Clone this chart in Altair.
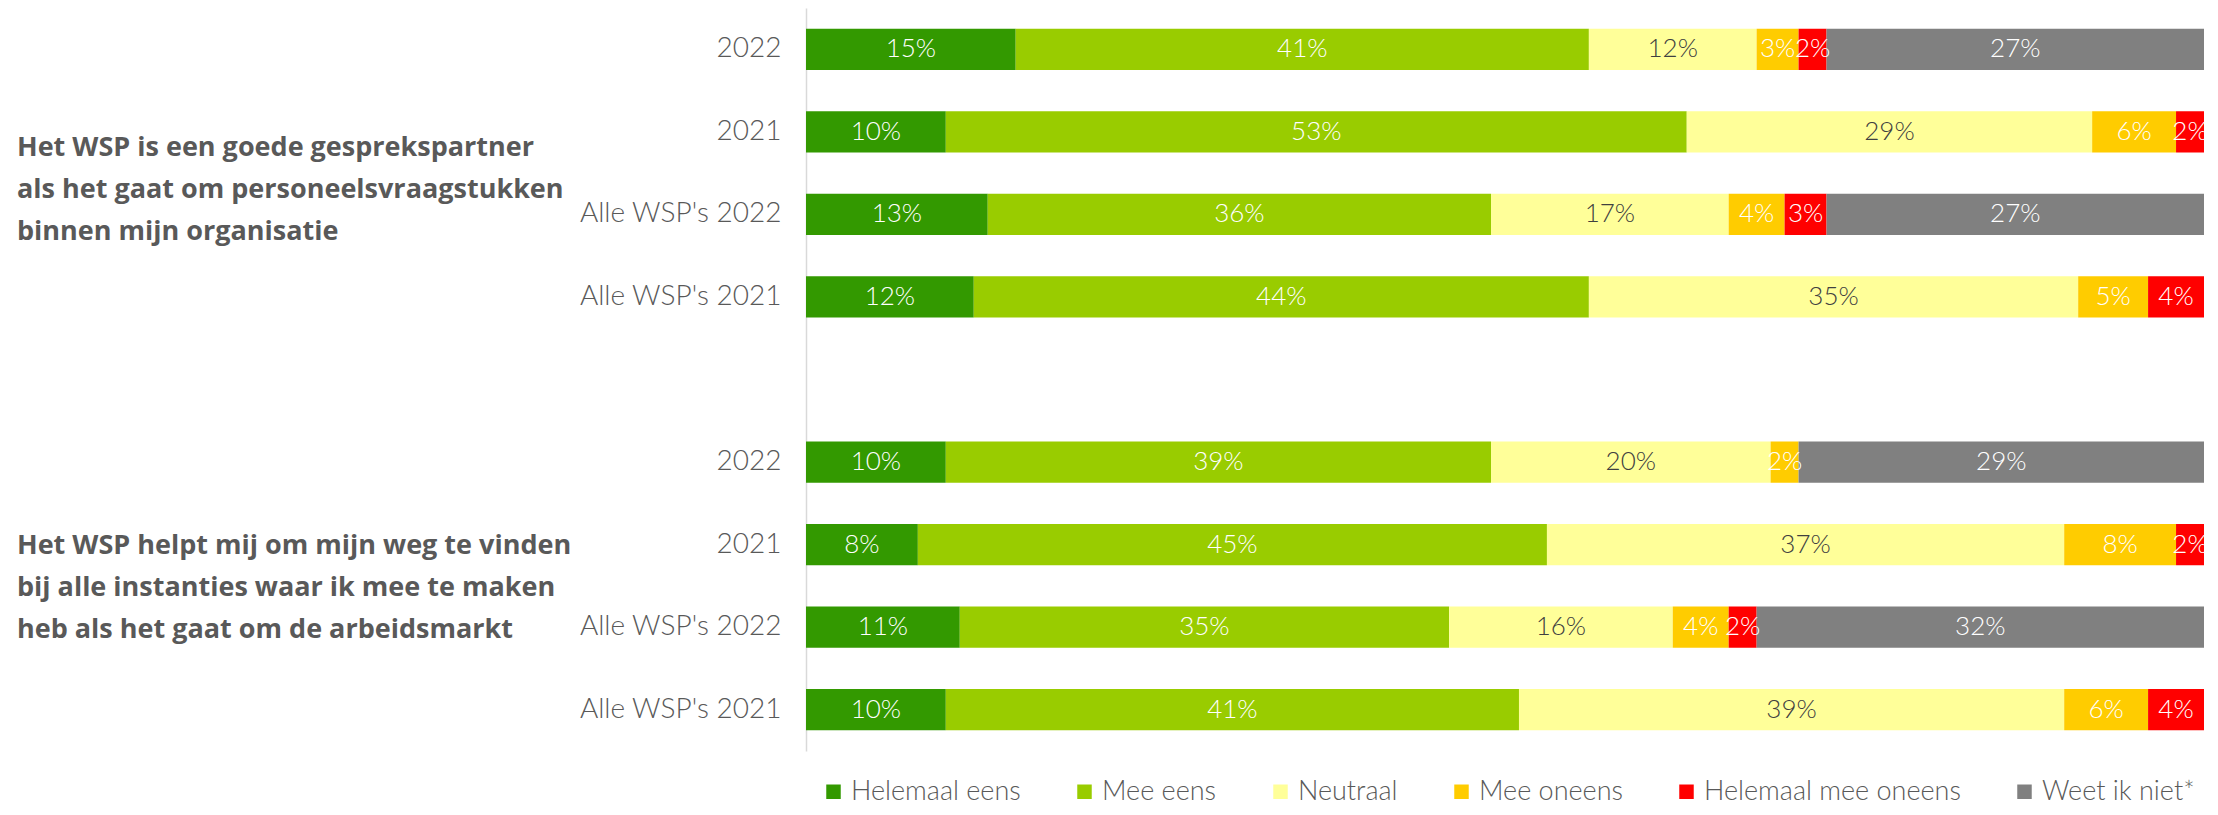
import altair as alt
import pandas as pd

categories = ["Helemaal eens", "Mee eens", "Neutraal", "Mee oneens",
              "Helemaal mee oneens", "Weet ik niet*"]
colors = ["#339900", "#99CC00", "#FFFF99", "#FFCC00", "#FF0000", "#808080"]
label_colors = ["#FFFFFF", "#FFFFFF", "#404040", "#FFFFFF", "#FFFFFF", "#FFFFFF"]

row_labels = ["2022", "2021", "Alle WSP's 2022", "Alle WSP's 2021"]

group_titles = [
    "Het WSP is een goede gesprekspartner|als het gaat om personeelsvraagstukken|binnen mijn organisatie",
    "Het WSP helpt mij om mijn weg te vinden|bij alle instanties waar ik mee te maken|heb als het gaat om de arbeidsmarkt",
]

# percentages per row, in category order
group1_values = [
    [15, 41, 12, 3, 2, 27],
    [10, 53, 29, 6, 2, 0],
    [13, 36, 17, 4, 3, 27],
    [12, 44, 35, 5, 4, 0],
]
group2_values = [
    [10, 39, 20, 2, 0, 29],
    [8, 45, 37, 8, 2, 0],
    [11, 35, 16, 4, 2, 32],
    [10, 41, 39, 6, 4, 0],
]
groups_values = [group1_values, group2_values]

records = []
y_domain = []
for gi, gvals in enumerate(groups_values):
    if gi > 0:
        y_domain.append("spacer")
    for ri, lab in enumerate(row_labels):
        key = f"{gi}|{lab}"
        y_domain.append(key)
        for ci, cat in enumerate(categories):
            v = gvals[ri][ci]
            if v > 0:
                records.append({"key": key, "category": cat, "value": v,
                                "order": ci, "lcolor": label_colors[ci]})
df = pd.DataFrame(records)

title_df = pd.DataFrame([
    {"key": f"{gi}|{row_labels[1]}", "title": t, "g": gi}
    for gi, t in enumerate(group_titles)
])

FONT = "Lato"

y_enc = alt.Y(
    "key:N",
    scale=alt.Scale(domain=y_domain, paddingInner=0.5, paddingOuter=0.25),
    axis=alt.Axis(
        title=None,
        labelExpr="indexof(datum.value,'|') >= 0 ? split(datum.value,'|')[1] : ''",
        ticks=False, tickSize=0, labelPadding=25, labelLimit=500,
        labelFont=FONT, labelFontSize=28, labelFontWeight=300,
        labelColor="#595959", domainColor="#D9D9D9", domainWidth=1.5,
    ),
)

base = alt.Chart(df).transform_stack(
    stack="value", groupby=["key"], sort=[alt.SortField("order")], as_=["x0", "x1"]
)

bars = base.mark_bar().encode(
    y=y_enc,
    x=alt.X("x0:Q", scale=alt.Scale(domain=[0, 100], nice=False, zero=True), axis=None),
    x2="x1:Q",
    color=alt.Color(
        "category:N",
        scale=alt.Scale(domain=categories, range=colors),
        legend=alt.Legend(
            title=None, orient="none", legendX=14, legendY=770,
            direction="horizontal", symbolType="square", symbolSize=210,
            symbolStrokeWidth=0, labelFont=FONT, labelFontSize=27,
            labelFontWeight=300, labelColor="#595959", labelOffset=4,
            columnPadding=50, padding=0, labelLimit=500,
        ),
    ),
)

labels = base.transform_calculate(
    mid="(datum.x0 + datum.x1) / 2",
    txt="datum.value + '%'",
).mark_text(
    font=FONT, fontSize=26, fontWeight=300, align="center", baseline="middle"
).encode(
    y=alt.Y("key:N"),
    x=alt.X("mid:Q"),
    text="txt:N",
    color=alt.Color("lcolor:N", scale=None, legend=None),
)

title_layers = []
for gi, dy in [(0, 16), (1, 1)]:
    t = alt.Chart(title_df).transform_filter(
        f"datum.g == {gi}"
    ).transform_calculate(
        lines="split(datum.title, '|')"
    ).mark_text(
        align="left", baseline="middle", dy=dy, font="Open Sans",
        fontWeight="bold", fontSize=27, lineHeight=42, color="#595959",
    ).encode(
        y=alt.Y("key:N"),
        x=alt.value(-789),
        text="lines:N",
    )
    title_layers.append(t)

chart = alt.layer(bars, labels, *title_layers).properties(
    width=1398, height=743,
    padding={"left": 798, "top": 0, "right": 6, "bottom": 56},
    autosize="none",
).configure_view(stroke=None)

chart.save("out.html", embed_options={"renderer": "svg", "actions": False})
